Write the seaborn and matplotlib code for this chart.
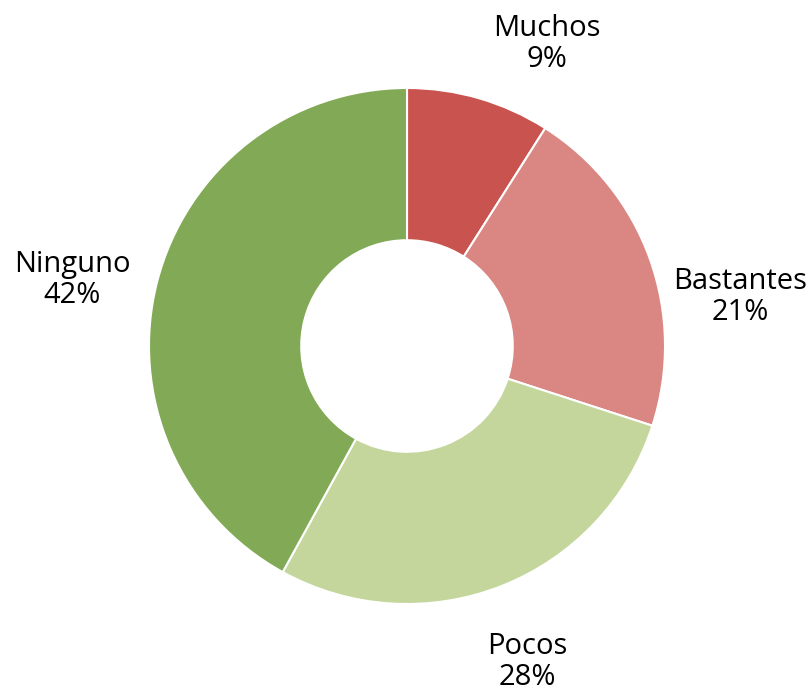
import matplotlib
matplotlib.use("Agg")
import matplotlib.pyplot as plt
import seaborn as sns

sns.set_theme(style="white")
plt.rcParams["font.family"] = ["Open Sans", "DejaVu Sans"]

categories = ["Muchos", "Bastantes", "Pocos", "Ninguno"]
shares = [9, 21, 28, 42]
colors = ["#C9534F", "#DA8682", "#C4D69C", "#82A955"]

# label anchor points (data units, pie radius = 1)
label_pos = [(0.543, 1.171), (1.291, 0.19), (0.465, -1.225), (-1.298, 0.256)]

fig = plt.figure(figsize=(8.1, 6.94), dpi=100)
ax = fig.add_axes([0, 0, 1, 1])

ax.pie(shares, colors=colors, startangle=90, counterclock=False,
       wedgeprops=dict(width=0.59, edgecolor="white", linewidth=1.5))

for name, val, (x, y) in zip(categories, shares, label_pos):
    ax.text(x, y, f"{name}\n{val}%", ha="center", va="center",
            fontsize=21, color="black", linespacing=1.08)

scale = 258.0
ax.set_xlim(-407 / scale, (810 - 407) / scale)
ax.set_ylim(-(694 - 346) / scale, 346 / scale)
ax.set_aspect("auto")
ax.axis("off")

fig.savefig("out.png", dpi=100, facecolor="white")
